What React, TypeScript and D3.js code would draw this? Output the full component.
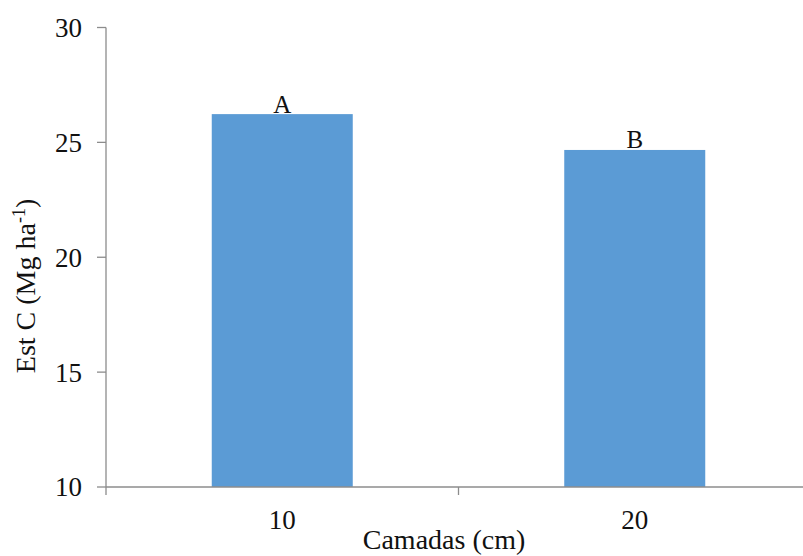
import { useEffect, useRef } from 'react';
import * as d3 from 'd3';

const categories = ['10', '20'];
const values = [26.23, 24.67];
const letters = ['A', 'B'];
const yTicks = [10, 15, 20, 25, 30];

export default function App() {
  const svgRef = useRef<SVGSVGElement | null>(null);

  useEffect(() => {
    if (!svgRef.current) return;
    const svg = d3.select(svgRef.current);
    svg.selectAll('*').remove();

    const left = 106;
    const right = 811;
    const top = 27.5;
    const bottom = 487;
    const font = '"Liberation Serif", "Times New Roman", serif';
    const axisColor = '#8c8c8c';

    const x = d3.scaleBand<string>()
      .domain(categories)
      .range([left, right])
      .paddingInner(0)
      .paddingOuter(0);

    const y = d3.scaleLinear().domain([10, 30]).range([bottom, top]);

    const barW = x.bandwidth() * 0.4;

    // bars
    svg.append('g')
      .selectAll('rect')
      .data(values)
      .enter()
      .append('rect')
      .attr('x', (d, i) => x(categories[i])! + (x.bandwidth() - barW) / 2)
      .attr('y', d => y(d))
      .attr('width', barW)
      .attr('height', d => bottom - y(d))
      .attr('fill', '#5b9bd5');

    // significance letters
    svg.append('g')
      .selectAll('text')
      .data(values)
      .enter()
      .append('text')
      .attr('x', (d, i) => x(categories[i])! + x.bandwidth() / 2)
      .attr('y', d => y(d) - 1.5)
      .attr('text-anchor', 'middle')
      .style('font-family', font)
      .style('font-size', '25px')
      .attr('fill', '#111')
      .text((d, i) => letters[i]);

    // y axis
    const yAxis = svg.append('g');
    yAxis.append('line')
      .attr('x1', left).attr('x2', left)
      .attr('y1', top).attr('y2', bottom + 8)
      .attr('stroke', axisColor).attr('stroke-width', 1.3);
    yTicks.forEach(t => {
      yAxis.append('line')
        .attr('x1', left - 9).attr('x2', left)
        .attr('y1', y(t)).attr('y2', y(t))
        .attr('stroke', axisColor).attr('stroke-width', 1.3);
      yAxis.append('text')
        .attr('x', 82)
        .attr('y', y(t))
        .attr('dy', '0.35em')
        .attr('text-anchor', 'end')
        .style('font-family', font)
        .style('font-size', '27px')
        .attr('fill', '#111')
        .text(t);
    });

    // x axis
    const xAxis = svg.append('g');
    xAxis.append('line')
      .attr('x1', left).attr('x2', right)
      .attr('y1', bottom).attr('y2', bottom)
      .attr('stroke', axisColor).attr('stroke-width', 1.3);
    categories.slice(1).forEach(c => {
      xAxis.append('line')
        .attr('x1', x(c)!).attr('x2', x(c)!)
        .attr('y1', bottom).attr('y2', bottom + 8)
        .attr('stroke', axisColor).attr('stroke-width', 1.3);
    });
    categories.forEach(c => {
      xAxis.append('text')
        .attr('x', x(c)! + x.bandwidth() / 2)
        .attr('y', 529)
        .attr('text-anchor', 'middle')
        .style('font-family', font)
        .style('font-size', '27px')
        .attr('fill', '#111')
        .text(c);
    });

    // axis titles
    svg.append('text')
      .attr('x', 444)
      .attr('y', 549)
      .attr('text-anchor', 'middle')
      .style('font-family', font)
      .style('font-size', '28px')
      .attr('fill', '#111')
      .text('Camadas (cm)');

    const yTitle = svg.append('text')
      .attr('transform', 'translate(35, 286) rotate(-90)')
      .attr('text-anchor', 'middle')
      .style('font-family', font)
      .style('font-size', '28px')
      .attr('fill', '#111');
    yTitle.append('tspan').text('Est C (Mg ha');
    yTitle.append('tspan').attr('dy', -10).style('font-size', '18px').text('-1');
    yTitle.append('tspan').attr('dy', 10).text(')');
  }, []);

  return (
    <div style={{ position: 'absolute', left: 0, top: 0 }}>
      <svg ref={svgRef} width={803} height={556} style={{ display: 'block', background: '#fff' }} />
    </div>
  );
}
